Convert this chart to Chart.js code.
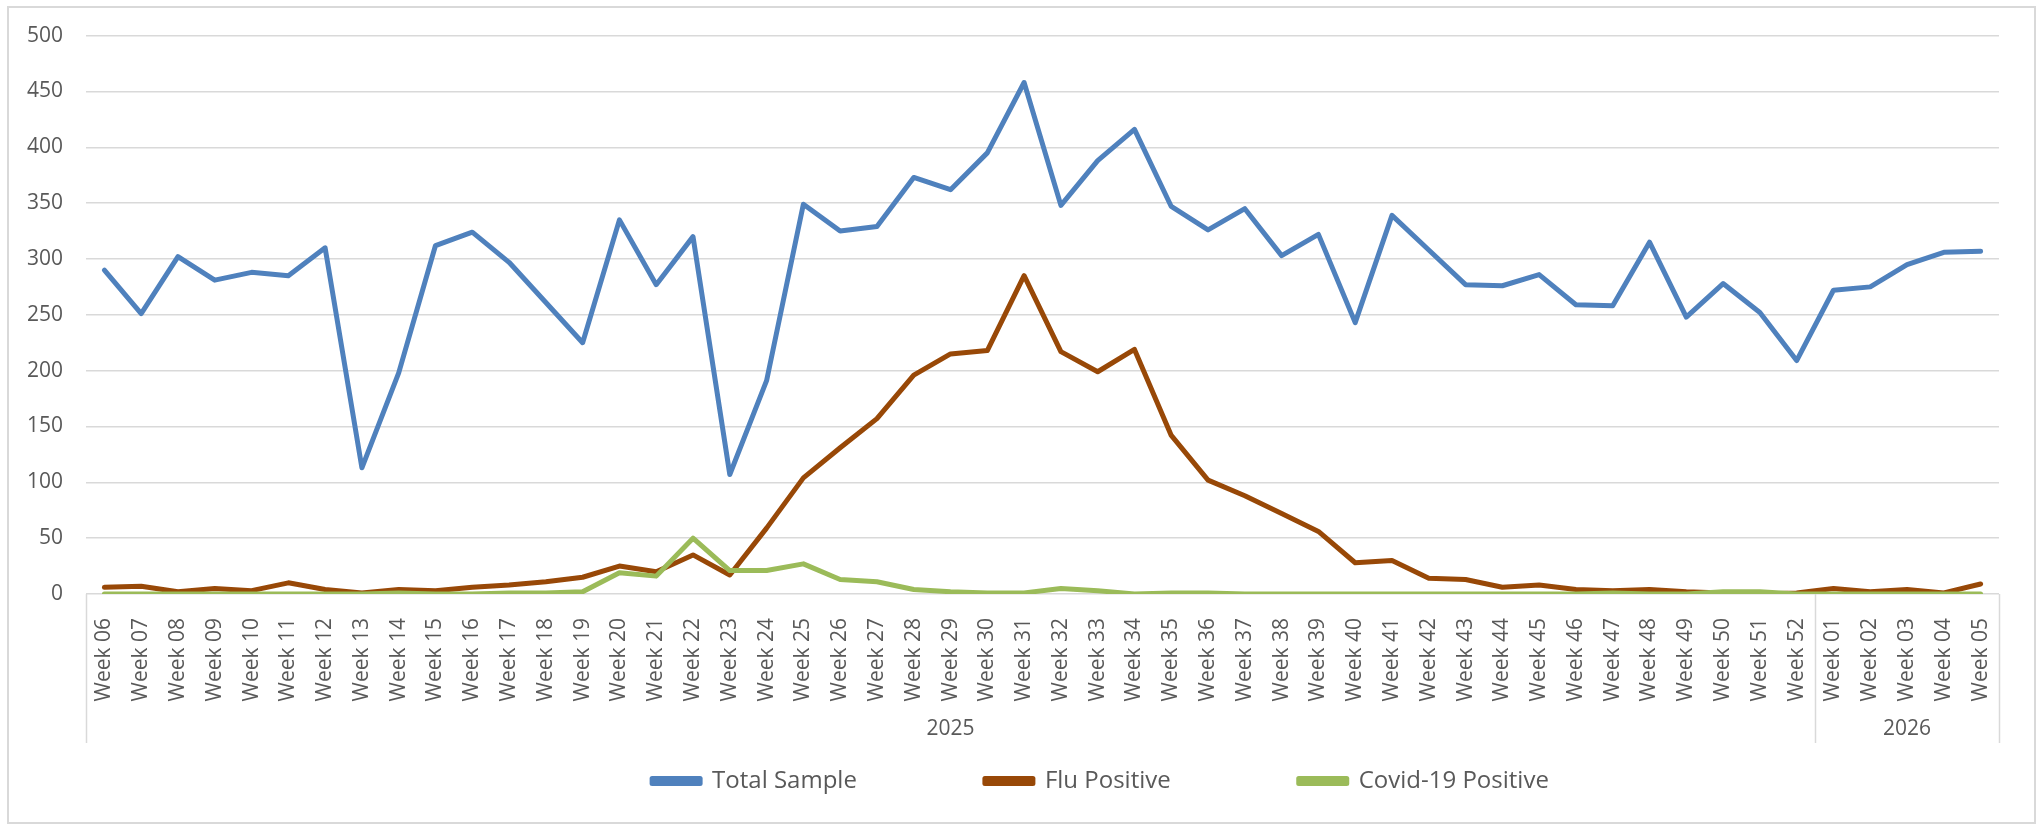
<!DOCTYPE html>
<html>
<head>
<meta charset="utf-8">
<title>Total Sample / Flu Positive / Covid-19 Positive</title>
<script src="https://cdn.jsdelivr.net/npm/chart.js@4.4.1/dist/chart.umd.min.js"></script>
<style>
  html, body { margin: 0; padding: 0; background: #fff; }
  #wrap { position: relative; width: 2042px; height: 825px; }
  #frame { position: absolute; left: 7px; top: 6px; width: 2025px; height: 814px; border: 2px solid #d9d9d9; pointer-events: none; }
</style>
</head>
<body>
<div id="wrap">
  <canvas id="chart" width="2042" height="825"></canvas>
  <div id="frame"></div>
</div>
<script>
const weeks = [
  'Week 06', 'Week 07', 'Week 08', 'Week 09', 'Week 10', 'Week 11', 'Week 12', 'Week 13',
  'Week 14', 'Week 15', 'Week 16', 'Week 17', 'Week 18', 'Week 19', 'Week 20', 'Week 21',
  'Week 22', 'Week 23', 'Week 24', 'Week 25', 'Week 26', 'Week 27', 'Week 28', 'Week 29',
  'Week 30', 'Week 31', 'Week 32', 'Week 33', 'Week 34', 'Week 35', 'Week 36', 'Week 37',
  'Week 38', 'Week 39', 'Week 40', 'Week 41', 'Week 42', 'Week 43', 'Week 44', 'Week 45',
  'Week 46', 'Week 47', 'Week 48', 'Week 49', 'Week 50', 'Week 51', 'Week 52',
  'Week 01', 'Week 02', 'Week 03', 'Week 04', 'Week 05'
];
const years = ['2025', '2026'];
const weeksPerYear = [47, 5];

const totalSample = [
  290, 251, 302, 281, 288, 285, 310, 113, 198, 312, 324, 297, 261, 225, 335, 277, 320,
  107, 191, 349, 325, 329, 373, 362, 395, 458, 348, 388, 416, 347, 326, 345, 303, 322,
  243, 339, 308, 277, 276, 286, 259, 258, 315, 248, 278, 252, 209,
  272, 275, 295, 306, 307
];
const fluPositive = [
  6, 7, 2, 5, 3, 10, 4, 1, 4, 3, 6, 8, 11, 15, 25, 20, 35,
  17, 59, 104, 131, 157, 196, 215, 218, 285, 217, 199, 219, 142, 102, 88, 72, 56,
  28, 30, 14, 13, 6, 8, 4, 3, 4, 2, 1, 0, 1,
  5, 2, 4, 1, 9
];
const covidPositive = [
  0, 0, 0, 0, 0, 0, 0, 0, 1, 0, 0, 1, 1, 2, 19, 16, 50,
  21, 21, 27, 13, 11, 4, 2, 1, 1, 5, 3, 0, 1, 1, 0, 0, 0,
  0, 0, 0, 0, 0, 0, 0, 1, 0, 0, 2, 2, 0,
  0, 0, 0, 0, 0
];

const yMin = 0, yMax = 500, yStep = 50;

const textColor = '#595959';
const gridColor = '#d9d9d9';

// second level of the category axis: year groups with separators
const yearGroups = {
  id: 'yearGroups',
  afterDraw(chart) {
    const x = chart.scales.x;
    const bottom = chart.chartArea.bottom;
    const ctx = chart.ctx;
    ctx.save();
    ctx.strokeStyle = gridColor;
    ctx.lineWidth = 1.5;
    ctx.fillStyle = textColor;
    ctx.font = '21px "Open Sans"';
    ctx.textAlign = 'center';
    ctx.textBaseline = 'middle';

    let start = 0;
    const edges = [x.getPixelForValue(-0.5)];
    years.forEach((yr, i) => {
      const end = start + weeksPerYear[i] - 1;
      edges.push(x.getPixelForValue(end + 0.5));
      ctx.fillText(yr, x.getPixelForValue((start + end) / 2), bottom + 135);
      start = end + 1;
    });
    edges.forEach(px => {
      ctx.beginPath();
      ctx.moveTo(Math.round(px) + 0.5, bottom);
      ctx.lineTo(Math.round(px) + 0.5, bottom + 149);
      ctx.stroke();
    });
    ctx.restore();
  }
};

// legend sits right of centre and tucked up under the axis in the original
const legendNudge = {
  id: 'legendNudge',
  afterLayout(chart) {
    const lg = chart.legend;
    lg.left += 101;
    lg.right += 101;
    lg.top -= 102;   // bottom stays put so the items are not clipped
  }
};

const ctx = document.getElementById('chart');
const myChart = new Chart(ctx, {
  type: 'line',
  data: {
    labels: weeks,
    datasets: [{
      label: 'Total Sample',
      data: totalSample,
      borderColor: '#4f81bd',
      backgroundColor: '#4f81bd',
      order: 2
    }, {
      label: 'Flu Positive',
      data: fluPositive,
      borderColor: '#984807',
      backgroundColor: '#984807',
      order: 1
    }, {
      label: 'Covid-19 Positive',
      data: covidPositive,
      borderColor: '#9bbb59',
      backgroundColor: '#9bbb59',
      order: 0
    }]
  },
  options: {
    responsive: false,
    animation: false,
    layout: {
      padding: { top: 28, left: 0, right: 43, bottom: 0 }
    },
    elements: {
      line: { borderWidth: 5, tension: 0, borderJoinStyle: 'round', borderCapStyle: 'round' },
      point: { radius: 0, hoverRadius: 0 }
    },
    scales: {
      x: {
        offset: true,
        grid: { display: false },
        border: { display: false },
        ticks: {
          autoSkip: false,
          minRotation: 90,
          maxRotation: 90,
          padding: 16,
          color: textColor,
          font: { family: 'Open Sans', size: 21 }
        },
        afterFit(scale) { scale.height = 149; }
      },
      y: {
        min: yMin,
        max: yMax,
        grid: { color: gridColor, lineWidth: 1.5, drawTicks: false },
        border: { display: false },
        ticks: {
          stepSize: yStep,
          padding: 23,
          color: textColor,
          font: { family: 'Open Sans', size: 21 }
        },
        afterFit(scale) { scale.width = 86; }
      }
    },
    plugins: {
      tooltip: { enabled: false },
      legend: {
        position: 'bottom',
        maxHeight: 82,
        labels: {
          boxWidth: 48,
          boxHeight: 5,
          padding: 128,
          color: textColor,
          font: { family: 'Open Sans', size: 24 },
          sort: (a, b) => a.datasetIndex - b.datasetIndex
        }
      }
    }
  },
  plugins: [yearGroups, legendNudge]
});
</script>
</body>
</html>
